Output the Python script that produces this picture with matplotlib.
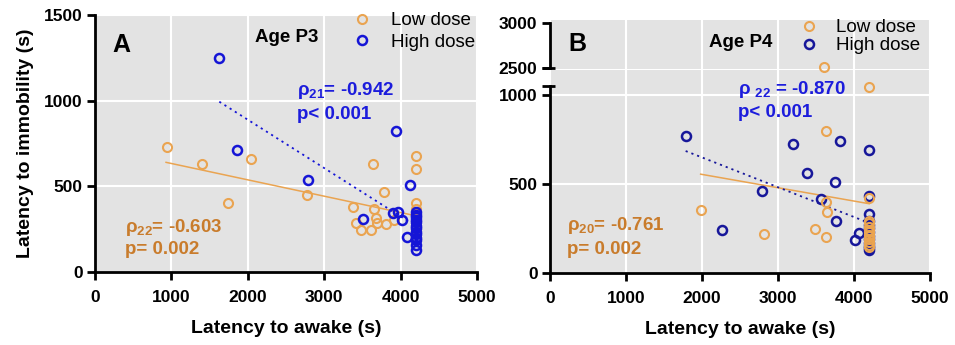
import matplotlib
matplotlib.use("Agg")
import matplotlib.pyplot as plt
import matplotlib.transforms as mtransforms
import numpy as np

plt.rcParams['font.family'] = ['Liberation Sans', 'DejaVu Sans']
plt.rcParams['font.weight'] = 'bold'
plt.rcParams['axes.labelweight'] = 'bold'
plt.rcParams['mathtext.fontset'] = 'custom'
plt.rcParams['mathtext.rm'] = 'Liberation Sans:bold'
plt.rcParams['mathtext.bf'] = 'Liberation Sans:bold'
plt.rcParams['mathtext.it'] = 'Liberation Sans:bold'

# ---- data ----
# Panel A (age P3)
a_low_x = [946, 1396, 1745, 2038, 2771, 3377, 3412, 3477, 3608, 3634, 3652, 3678,
           3687, 3783, 3809, 3914, 4200, 4200, 4200, 4200, 4200, 4200, 4200, 4200]
a_low_y = [732, 629, 401, 661, 450, 381, 284, 245, 245, 629, 366, 313,
           284, 465, 278, 303, 677, 603, 401, 370, 340, 300, 250, 200]
a_high_x = [1627, 1859, 2792, 3940, 3512, 3905, 3970, 4014, 4123, 4080,
            4200, 4200, 4200, 4200, 4200, 4200, 4200, 4200, 4200, 4200, 4200, 4200, 4200]
a_high_y = [1251, 712, 537, 825, 309, 342, 348, 303, 508, 202,
            350, 335, 320, 305, 290, 270, 255, 235, 220, 200, 185, 160, 130]
a_low_fit_x = [930, 4200]
a_low_fit_y = [640, 328]
a_high_fit_x = [1627, 4200]
a_high_fit_y = [994, 268]

# Panel B (age P4)
b_low_x = [1982, 2816, 3487, 3627, 3627, 3640, 3627, 3609, 4200,
           4200, 4200, 4200, 4200, 4200, 4200, 4200, 4200, 4200, 4200, 4200, 4200]
b_low_y = [354, 219, 245, 200, 401, 341, 798, 2510, 1047,
           420, 290, 279, 260, 242, 230, 215, 208, 190, 176, 160, 148]
b_high_x = [1785, 2259, 2785, 3202, 3377, 3561, 3750, 3816, 3759, 4013, 4070,
            4200, 4200, 4200, 4200, 4200, 4200, 4200, 4200, 4200, 4200, 4200, 4200, 4200]
b_high_y = [770, 242, 462, 723, 560, 416, 510, 743, 292, 185, 223,
            691, 433, 331, 290, 270, 250, 230, 210, 190, 170, 150, 140, 129]
b_low_fit_x = [1982, 4200]
b_low_fit_y = [555, 389]
b_high_fit_x = [1785, 4200]
b_high_fit_y = [685, 281]

x_ticks = [0, 1000, 2000, 3000, 4000, 5000]

# ---- styling ----
bg = '#e3e3e3'
orange = '#eaa451'
orange_txt = '#c97c2c'
blue_a = '#1515d6'
blue_b = '#17179a'
blue_txt = '#1c1cdc'
W, H = 955, 345

fig = plt.figure(figsize=(W / 100, H / 100), dpi=100)


def px_axes(x0, y0, x1, y1):
    # pixel box (top-left origin) -> axes
    return fig.add_axes([x0 / W, 1 - y1 / H, (x1 - x0) / W, (y1 - y0) / H])


def style(ax):
    ax.set_facecolor(bg)
    ax.grid(True, color='white', lw=1.5)
    ax.set_axisbelow(True)
    for s in ['top', 'right']:
        ax.spines[s].set_visible(False)
    for s in ['left', 'bottom']:
        ax.spines[s].set_linewidth(2)
    ax.tick_params(width=2, length=6, labelsize=12.5, pad=3)
    ax.tick_params(axis='x', pad=7)


def ft(x, y, s, **kw):
    fig.text(x / W, 1 - y / H, s, **kw)


mk = dict(ls='none', marker='o', ms=6.5, mfc='none')

# ---------- Panel A ----------
axA = px_axes(95, 15, 477, 272)
style(axA)
axA.plot(a_low_fit_x, a_low_fit_y, color=orange, lw=1.1)
axA.plot(a_high_fit_x, a_high_fit_y, color=blue_a, lw=1.3, ls=(0, (1.2, 2.2)))
hl, = axA.plot(a_low_x, a_low_y, mec=orange, mew=1.5, label='Low dose', **mk)
hh, = axA.plot(a_high_x, a_high_y, mec=blue_a, mew=1.8, label='High dose', **mk)
axA.set_xlim(0, 5000)
axA.set_ylim(0, 1500)
axA.set_xticks(x_ticks)
axA.set_yticks([0, 500, 1000, 1500])
axA.set_xlabel('Latency to awake (s)', fontsize=14, labelpad=11)
axA.set_ylabel('Latency to immobility (s)', fontsize=14, labelpad=7)
axA.legend(handles=[hl, hh], loc='upper left', bbox_to_anchor=(353 / W, 1 - 12 / H),
           bbox_transform=fig.transFigure, frameon=False, borderpad=0, borderaxespad=0,
           handlelength=1.0, handletextpad=1.0, labelspacing=0.25,
           prop={'weight': 'normal', 'size': 13.5})

ft(121, 45, 'A', fontsize=18, ha='center', va='center')
ft(287, 37, 'Age P3', fontsize=13.5, ha='center', va='center')
ft(297, 90, r'ρ$_{21}$= -0.942', fontsize=13.5, color=blue_txt, va='center')
ft(297, 114.5, 'p< 0.001', fontsize=13.5, color=blue_txt, va='center')
ft(125, 228, r'ρ$_{22}$= -0.603', fontsize=13.5, color=orange_txt, va='center')
ft(125, 250, 'p= 0.002', fontsize=13.5, color=orange_txt, va='center')

# ---------- Panel B (broken y axis) ----------
axB = px_axes(550, 70, 930, 273)
axU = px_axes(550, 20, 930, 68.5)
style(axB)
style(axU)

bx_lo = np.array(b_low_x)
by_lo = np.array(b_low_y)
top = by_lo > 2000

axB.plot(b_low_fit_x, b_low_fit_y, color=orange, lw=1.1)
axB.plot(b_high_fit_x, b_high_fit_y, color=blue_b, lw=1.3, ls=(0, (1.2, 2.2)))
hh2, = axB.plot(b_high_x, b_high_y, mec=blue_b, mew=1.8, label='High dose', **mk)
hl2, = axB.plot(bx_lo[~top], by_lo[~top], mec=orange, mew=1.5, label='Low dose', **mk)
axU.plot(bx_lo[top], by_lo[top], mec=orange, mew=1.5, clip_on=False, **mk)

axB.set_xlim(0, 5000)
axB.set_ylim(0, 1140)
axB.set_xticks(x_ticks)
axB.set_yticks([0, 500, 1000])
axB.spines['left'].set_bounds(0, 1050)
axB.set_xlabel('Latency to awake (s)', fontsize=14, labelpad=11)

axU.set_xlim(0, 5000)
axU.set_ylim(2495, 3030)
axU.set_xticks(x_ticks)
axU.set_yticks([2500, 3000])
axU.spines['left'].set_bounds(2500, 3000)
axU.spines['bottom'].set_visible(False)
axU.tick_params(axis='x', bottom=False, labelbottom=False)
axU.grid(False, axis='y')

# break caps
for ax, yv in [(axB, 1050), (axU, 2500)]:
    tr = mtransforms.blended_transform_factory(ax.transAxes, ax.transData)
    ax.plot([-0.022, 0.014], [yv, yv], color='black', lw=2, transform=tr,
            clip_on=False, solid_capstyle='butt')

axU.legend(handles=[hl2, hh2], loc='upper left', bbox_to_anchor=(800 / W, 1 - 19 / H),
           bbox_transform=fig.transFigure, frameon=False, borderpad=0, borderaxespad=0,
           handlelength=1.0, handletextpad=0.9, labelspacing=0.05,
           prop={'weight': 'normal', 'size': 13.5})

ft(577, 44, 'B', fontsize=18, ha='center', va='center')
ft(740.5, 42.5, 'Age P4', fontsize=13.5, ha='center', va='center')
ft(738, 89, r'ρ $_{22}$ = -0.870', fontsize=13.5, color=blue_txt, va='center')
ft(738, 112.5, 'p< 0.001', fontsize=13.5, color=blue_txt, va='center')
ft(567, 226, r'ρ$_{20}$= -0.761', fontsize=13.5, color=orange_txt, va='center')
ft(567, 249.5, 'p= 0.002', fontsize=13.5, color=orange_txt, va='center')

fig.savefig('out.png', dpi=100)
